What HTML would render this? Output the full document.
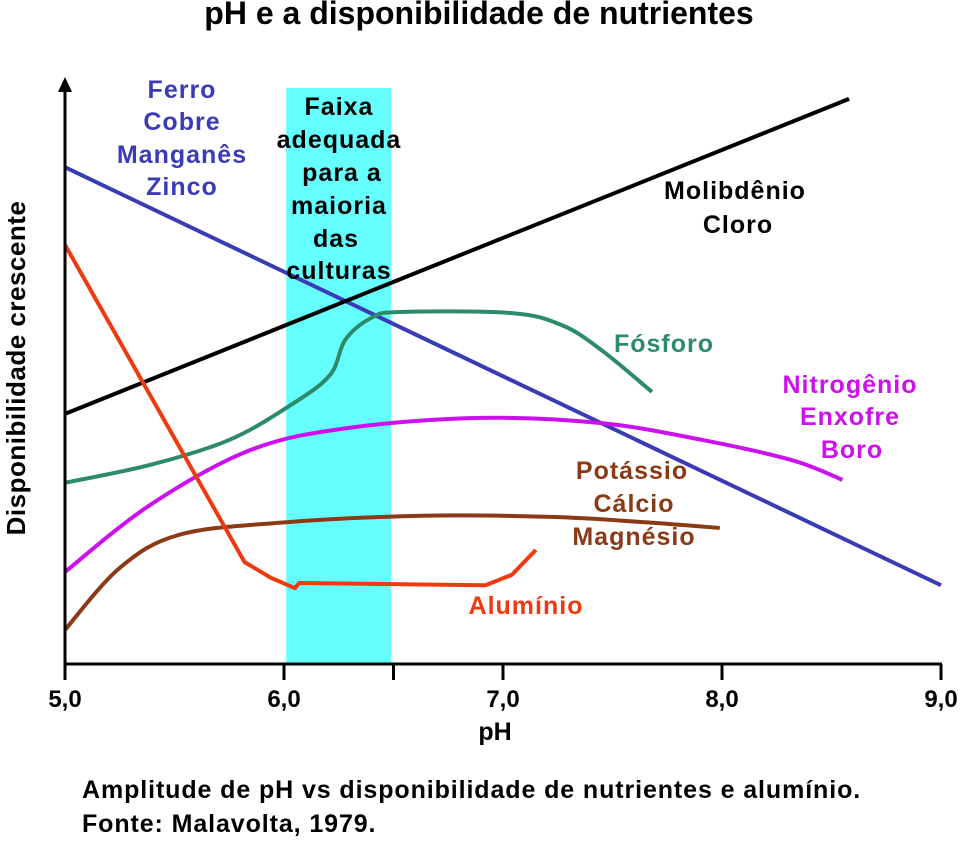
<!DOCTYPE html>
<html><head><meta charset="utf-8"><style>
body{margin:0;background:#fff;width:960px;height:841px;overflow:hidden}
svg{display:block}
text{font-family:"Liberation Sans",Arial,sans-serif;font-weight:bold}
</style></head><body>
<svg id="chart" width="960" height="841"></svg>
<script>
const xTicks=[5,6,7,8,9];
const xTickLabels=["5,0","6,0","7,0","8,0","9,0"];
const bandRange=[6.01,6.49];
const ferroX=[5.0,9.0], ferroY=[85.8,13.6];
const molibX=[5.0,8.58], molibY=[43.2,97.6];
const aluX=[5.0,5.82,5.94,6.05,6.07,6.92,7.04,7.15];
const aluY=[72.4,17.6,14.9,13.1,14.0,13.6,15.4,19.7];
const fosX=[5.0,5.39,5.75,6.03,6.21,6.28,6.40,6.53,7.04,7.27,7.45,7.68];
const fosY=[31.3,34.4,38.7,44.7,49.9,56.0,59.8,60.8,60.6,58.5,54.2,47.0];
const nitX=[5.0,5.39,5.85,6.30,6.90,7.45,7.91,8.32,8.55];
const nitY=[15.9,27.5,37.0,40.8,42.5,41.6,38.7,35.2,31.8];
const potX=[5.0,5.25,5.52,5.98,6.63,7.22,7.64,7.99];
const potY=[5.9,16.6,22.3,24.4,25.6,25.4,24.5,23.5];

const NS="http://www.w3.org/2000/svg";
const svg=document.getElementById('chart');
const X=v=>65+(v-5)*219;
const Y=v=>664-v*5.79;
function el(t,a,p){const e=document.createElementNS(NS,t);for(const k in a)e.setAttribute(k,a[k]);(p||svg).appendChild(e);return e;}
function txt(s,x,y,size,fill,anchor,name,ls){const e=el('text',{x:x,y:y,'font-size':size,fill:fill,'text-anchor':anchor||'middle','letter-spacing':ls||0});e.textContent=s;


return e;}

txt('pH e a disponibilidade de nutrientes',479,24,32,'#000','middle','chart-title');

const band=el('rect',{x:X(bandRange[0]),y:88,width:X(bandRange[1])-X(bandRange[0]),height:664-88,fill:'#66ffff'});



function series(xs,ys,color,name,smooth){
  let d='';
  if(!smooth||xs.length<3){d=xs.map((x,i)=>(i?'L':'M')+X(x)+','+Y(ys[i])).join(' ');}
  else{
    const P=xs.map((x,i)=>[X(x),Y(ys[i])]);
    d='M'+P[0][0]+','+P[0][1];
    for(let i=0;i<P.length-1;i++){
      const p0=P[i-1]||P[i],p1=P[i],p2=P[i+1],p3=P[i+2]||p2;
      const c1=[p1[0]+(p2[0]-p0[0])/6,p1[1]+(p2[1]-p0[1])/6];
      const c2=[p2[0]-(p3[0]-p1[0])/6,p2[1]-(p3[1]-p1[1])/6];
      d+=` C${c1[0]},${c1[1]} ${c2[0]},${c2[1]} ${p2[0]},${p2[1]}`;
    }
  }
  const p=el('path',{d:d,fill:'none',stroke:color,'stroke-width':4,'stroke-linejoin':'round'});
  
  
}
series(ferroX,ferroY,'#3b3bb8','line-ferro-cobre-manganes-zinco',false);
series(molibX,molibY,'#000','line-molibdenio-cloro',false);
series(potX,potY,'#8b3a16','line-potassio-calcio-magnesio',true);
series(nitX,nitY,'#cc11ee','line-nitrogenio-enxofre-boro',true);
series(fosX,fosY,'#2e8b6a','line-fosforo',true);
series(aluX,aluY,'#ee3a10','line-aluminio',false);

const ya=el('line',{x1:65,y1:86,x2:65,y2:664,stroke:'#000','stroke-width':3});


const ar=el('path',{d:'M58,92 L65,77 L72,92 Z',fill:'#000'});


const xa=el('line',{x1:64,y1:664,x2:942,y2:664,stroke:'#000','stroke-width':3});


xTicks.concat([6.5]).forEach(t=>{const l=el('line',{x1:X(t),y1:664,x2:X(t),y2:680,stroke:'#000','stroke-width':3});

});
xTicks.forEach((t,i)=>txt(xTickLabels[i],X(t),707,24,'#000','middle','x-tick-label'));
txt('pH',495,740,25,'#000','middle','x-axis-title');
const yt=txt('Disponibilidade crescente',0,0,26,'#000','middle','y-axis-title',0.5);
yt.setAttribute('transform','translate(25,368) rotate(-90)');

[['Ferro',182,98],['Cobre',182,130],['Manganês',182,163],['Zinco',182,195]].forEach(a=>txt(a[0],a[1],a[2],25,'#3b3bb8','middle','label-ferro-group',1));
[['Faixa',339,115],['adequada',339,148],['para a',342,181],['maioria',339,214],['das',336,247],['culturas',339,279]].forEach(a=>txt(a[0],a[1],a[2],25,'#000','middle','label-optimal-band',1));
txt('Molibdênio',735,199,25,'#000','middle','label-molibdenio',1);
txt('Cloro',738,233,25,'#000','middle','label-cloro',1);
txt('Fósforo',664,352,25,'#2e8b6a','middle','label-fosforo',1);
[['Nitrogênio',850,393],['Enxofre',850,425],['Boro',852,458]].forEach(a=>txt(a[0],a[1],a[2],25,'#cc11ee','middle','label-nitrogenio-group',1));
[['Potássio',632,479],['Cálcio',634,512],['Magnésio',634,545]].forEach(a=>txt(a[0],a[1],a[2],25,'#8b3a16','middle','label-potassio-group',1));
txt('Alumínio',526,614,25,'#ee3a10','middle','label-aluminio',1);

txt('Amplitude de pH vs disponibilidade de nutrientes e alumínio.',82,798,25,'#000','start','caption',0.9);
txt('Fonte: Malavolta, 1979.',82,832,25,'#000','start','source-note',0.9);
</script>
</body></html>
